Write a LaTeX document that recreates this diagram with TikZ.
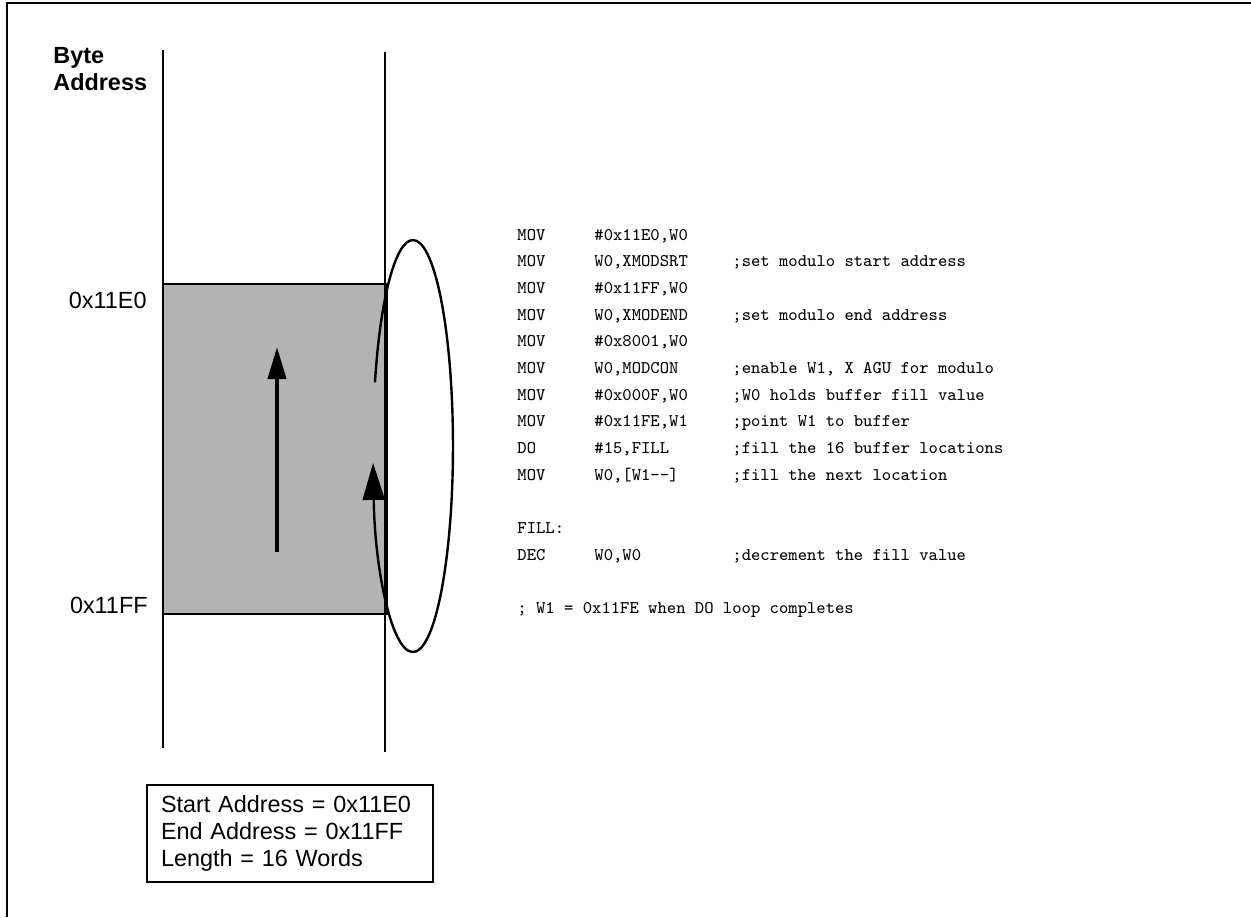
\documentclass[tikz,border=0pt]{standalone}
\usepackage{fontspec}
\setmainfont{Liberation Sans}
\usetikzlibrary{arrows.meta,positioning}
\definecolor{BufferGray}{RGB}{179,179,179}

\tikzset{
  addr/.style={anchor=base east, inner sep=0pt, font=\fontsize{11.7}{13.5}\selectfont},
  codeline/.style={anchor=base west, inner sep=0pt, font=\ttfamily\fontsize{8.9}{10}\selectfont},
  memline/.style={line width=0.85pt},
}

\begin{document}
\begin{tikzpicture}[x=0.5pt, y=0.5pt, >=Triangle]
  \useasboundingbox (0,0) rectangle (1251,-917);
  % frame (cut at right and bottom)
  \draw[line width=1.1pt] (7,-917) -- (7,-3) -- (1251,-3);

  % modulo buffer
  \node[draw, memline, fill=BufferGray, anchor=north west, minimum width=112pt, minimum height=165pt, inner sep=0pt] (buf) at (162,-283) {};
  \coordinate (lt) at (163,-50);  \coordinate (lb) at (163,-748);
  \coordinate (rt) at (385,-52);  \coordinate (rb) at (385,-752);
  \draw[memline] (lt) -- (lb);
  \draw[memline] (rt) -- (rb);

  \node[anchor=north west, inner sep=0pt, align=left, font=\bfseries\fontsize{11.7}{13.5}\selectfont] (title) at (53,-47) {Byte\\Address};
  \node[addr] (start) at (147,-308) {0x11E0};
  \node[addr] (end) at (148,-613) {0x11FF};

  % fill direction
  \coordinate (up0) at (277,-552);
  \coordinate (up1) at (277,-347);
  \draw[->, line width=2pt, -{Triangle[length=16pt, width=9pt]}] (up0) -- (up1);

  % wrap-around loop
  \draw[line width=1.2pt] (413,-240) arc[start angle=90, end angle=162, x radius=20pt, y radius=103pt];
  \draw[line width=1.2pt, {Triangle[length=18.5pt, width=11pt]}-] (373.1,-462.9) arc[start angle=184.7, end angle=450, x radius=20pt, y radius=103pt];

  % code listing
  \foreach \i/\m/\o in {0/MOV/{\#0x11E0,W0}, 1/MOV/{W0,XMODSRT}, 2/MOV/{\#0x11FF,W0}, 3/MOV/{W0,XMODEND},
      4/MOV/{\#0x8001,W0}, 5/MOV/{W0,MODCON}, 6/MOV/{\#0x000F,W0}, 7/MOV/{\#0x11FE,W1},
      8/DO/{\#15,FILL}, 9/MOV/{W0,[W1-{}-]}, 12/DEC/{W0,W0}} {
    \node[codeline] (mn\i) at (517,{-240-26.7*\i}) {\m};
    \node[codeline] (op\i) at (594,{-240-26.7*\i}) {\o};
  }
  \foreach \i/\c in {1/{;set modulo start address}, 3/{;set modulo end address}, 5/{;enable W1, X AGU for modulo},
      6/{;W0 holds buffer fill value}, 7/{;point W1 to buffer}, 8/{;fill the 16 buffer locations},
      9/{;fill the next location}, 12/{;decrement the fill value}} {
    \node[codeline] (cm\i) at (732,{-240-26.7*\i}) {\c};
  }
  \node[codeline] (fill) at (517,{-240-26.7*11}) {FILL:};
  \node[codeline] (note) at (517,{-240-26.7*14}) {; W1 = 0x11FE when DO loop completes};

  % summary box
  \node[draw, memline, minimum width=143pt, minimum height=48.5pt, inner xsep=7pt, text width=129pt, align=left,
        font=\fontsize{11.7}{13.5}\selectfont] (info) at (290,-833.5)
        {Start Address = 0x11E0\\End Address = 0x11FF\\Length = 16 Words};
\end{tikzpicture}
\end{document}
